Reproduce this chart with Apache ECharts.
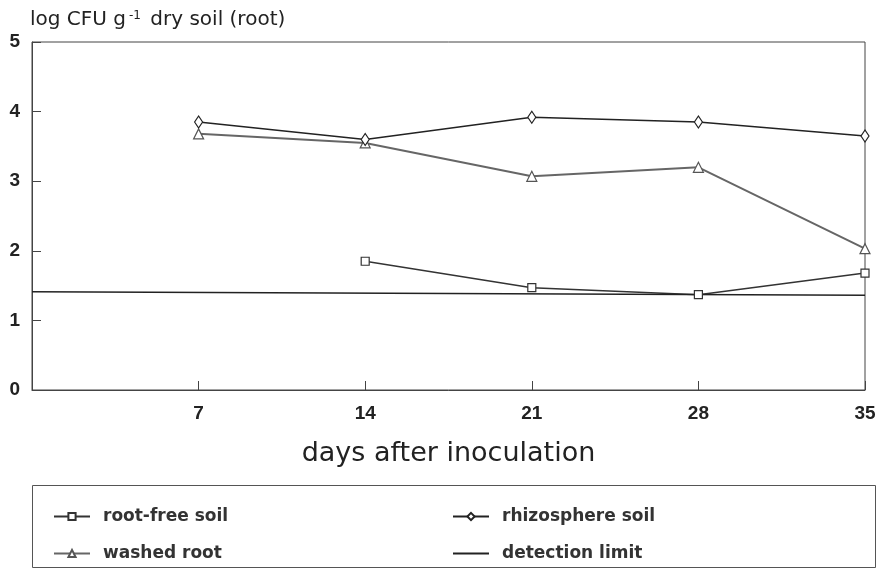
<!DOCTYPE html>
<html>
<head>
<meta charset="utf-8">
<script src="https://cdn.jsdelivr.net/npm/echarts@6/dist/echarts.min.js"></script>
<style>
  body { margin: 0; background: #fff; }
  #chart { width: 885px; height: 575px; }
</style>
</head>
<body>
<div id="chart"></div>
<script>
// days after inoculation
const days = [7, 14, 21, 28, 35];
// log CFU values
const rootFree = [null, 1.85, 1.47, 1.37, 1.68];
const washedRoot = [3.68, 3.55, 3.07, 3.2, 2.03];
const rhizosphere = [3.85, 3.6, 3.92, 3.85, 3.65];
const detectionLimit = [[0, 1.41], [35, 1.36]];
const yTicks = [0, 1, 2, 3, 4, 5];

const font = 'Liberation Sans, Arial, sans-serif';
const wide = 'DejaVu Sans, sans-serif';

const pair = (vals) => days.map((d, i) => [d, vals[i]]).filter(p => p[1] != null);

const chart = echarts.init(document.getElementById('chart'));

const legendText = { fontSize: 17, color: '#333', fontFamily: wide, fontWeight: 'bold', padding: [0, 0, 0, 8] };

const option = {
  backgroundColor: '#fff',
  animation: false,
  textStyle: { fontFamily: font },
  grid: {
    left: 32, right: 20, top: 42, bottom: 185,
    show: true, borderColor: '#444', borderWidth: 1
  },
  xAxis: {
    type: 'value',
    min: 0, max: 35, interval: 7,
    name: 'days after inoculation',
    nameLocation: 'middle',
    nameGap: 50,
    nameTextStyle: { fontSize: 27, color: '#222', fontFamily: wide },
    axisLine: { show: true, lineStyle: { color: '#444', width: 1 } },
    axisTick: { show: true, inside: true, length: 9, lineStyle: { color: '#444' } },
    axisLabel: {
      margin: 14, fontSize: 19, color: '#222', fontWeight: 600,
      formatter: v => (v === 0 ? '' : v)
    },
    splitLine: { show: false }
  },
  yAxis: {
    type: 'value',
    min: yTicks[0], max: yTicks[yTicks.length - 1], interval: 1,
    axisLine: { show: true, lineStyle: { color: '#444', width: 1 } },
    axisTick: { show: true, inside: true, length: 9, lineStyle: { color: '#444' } },
    axisLabel: { margin: 12, fontSize: 19, color: '#222', fontWeight: 600 },
    splitLine: { show: false }
  },
  legend: [
    {
      orient: 'vertical', left: 48, top: 503, itemGap: 20,
      itemWidth: 36, itemHeight: 9,
      textStyle: legendText,
      data: ['root-free soil', 'washed root']
    },
    {
      orient: 'vertical', left: 447, top: 503, itemGap: 20,
      itemWidth: 36, itemHeight: 9,
      textStyle: legendText,
      data: ['rhizosphere soil', { name: 'detection limit', itemStyle: { opacity: 0 } }]
    }
  ],
  graphic: [
    {
      type: 'text', left: 30, top: 10,
      style: {
        text: '{a|log CFU g}{s|-1}{a| dry soil (root)}',
        rich: {
          a: { fontSize: 20, fill: '#222', fontFamily: wide },
          s: { fontSize: 12, fill: '#222', fontFamily: wide, verticalAlign: 'top', padding: [0, 3, 8, 3] }
        }
      }
    },
    {
      type: 'rect', left: 30, top: 483,
      shape: { width: 843, height: 82 },
      style: { fill: 'none', stroke: '#555', lineWidth: 1 }
    }
  ],
  series: [
    {
      name: 'root-free soil', type: 'line', data: pair(rootFree),
      symbol: 'rect', symbolSize: 8,
      lineStyle: { color: '#333', width: 1.5 },
      itemStyle: { color: '#fff', borderColor: '#333', borderWidth: 1.2 }
    },
    {
      name: 'washed root', type: 'line', data: pair(washedRoot),
      symbol: 'triangle', symbolSize: 10,
      lineStyle: { color: '#666', width: 2 },
      itemStyle: { color: '#fff', borderColor: '#555', borderWidth: 1.2 }
    },
    {
      name: 'rhizosphere soil', type: 'line', data: pair(rhizosphere),
      symbol: 'diamond', symbolSize: [8, 12],
      lineStyle: { color: '#222', width: 1.5 },
      itemStyle: { color: '#fff', borderColor: '#222', borderWidth: 1.2 }
    },
    {
      name: 'detection limit', type: 'line', data: detectionLimit,
      symbol: 'none',
      lineStyle: { color: '#222', width: 1.5 },
      itemStyle: { color: '#222' }
    }
  ]
};

chart.setOption(option);
</script>
</body>
</html>
